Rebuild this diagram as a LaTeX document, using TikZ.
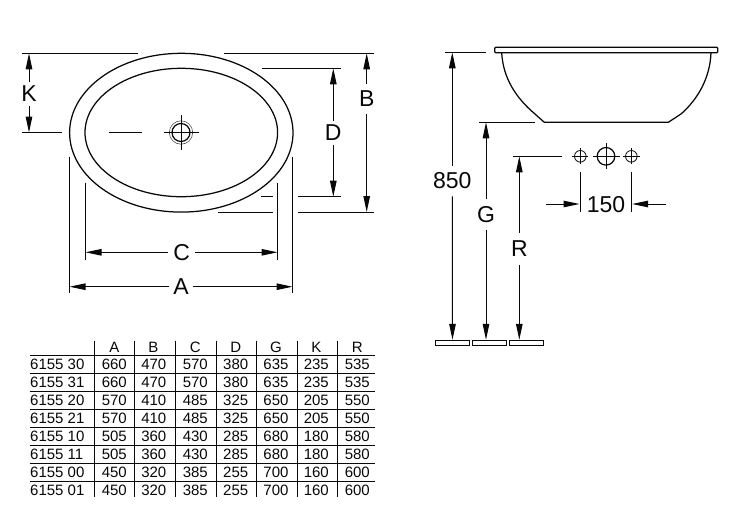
\documentclass[tikz,border=0pt]{standalone}
\usepackage{fontspec}
\setmainfont{Liberation Sans}
\usetikzlibrary{arrows.meta}
\definecolor{ink}{gray}{0.03}
\tikzset{
  thinline/.style={draw=ink,line width=1pt},
  bodyline/.style={draw=ink,line width=1.25pt},
  dimarrow/.style={draw=ink,line width=1pt,-{Triangle[length=16pt,width=6.5pt]}},
  dimlabel/.style={font=\fontsize{23}{23}\selectfont,text=ink,inner xsep=4pt,inner ysep=4pt},
  widelabel/.style={dimlabel,inner ysep=7pt},
  headcell/.style={font=\fontsize{15}{15}\selectfont,text=ink,inner sep=0pt},
  cell/.style={font=\fontsize{15}{15}\selectfont,text=ink,inner sep=0pt},
  rowcell/.style={cell,anchor=west},
  gridline/.style={draw=ink,line width=0.9pt},
  foot/.style={draw=ink,line width=1pt,fill=white}
}
\begin{document}
\begin{tikzpicture}[x=1pt,y=-1pt]
\useasboundingbox (0,0) rectangle (744,523);
\fill[white] (0,0) rectangle (744,523);

% --- plan view
\draw[bodyline] (181.3,132.7) ellipse [x radius=111.7,y radius=79.4];
\draw[bodyline] (181.3,132.5) ellipse [x radius=96.3,y radius=64.2];
\draw[draw=ink!70,line width=0.6pt] (181,132.5) circle (11.7);
\draw[bodyline] (181,132.5) circle (9);
\draw[thinline] (164,132.5) -- (199,132.5) (181,115) -- (181,150);
\draw[thinline] (109,132.5) -- (142,132.5);

% extension lines, plan
\draw[thinline] (22,53.3) -- (138,53.3) (224,53.3) -- (374,53.3);
\draw[thinline] (22,132.5) -- (62,132.5);
\draw[thinline] (262,68.3) -- (340.7,68.3);
\draw[thinline] (261,196.7) -- (273,196.7) (298,196.7) -- (341,196.7);
\draw[thinline] (218,212) -- (272.7,212) (298,212) -- (374,212);
\draw[thinline] (69.5,156.7) -- (69.5,293.3) (292.5,156.7) -- (292.5,293.3);
\draw[thinline] (85.5,183.3) -- (85.5,260) (277.5,183.3) -- (277.5,260);

% dimensions, plan
\node[dimlabel] (lK) at (29,94) {K};
\coordinate (kA) at (29,53.3); \coordinate (kB) at (29,132.5);
\draw[dimarrow] (lK) -- (kA); \draw[dimarrow] (lK) -- (kB);
\node[widelabel] (lB) at (366.7,99) {B};
\coordinate (bA) at (366.7,53.3); \coordinate (bB) at (366.7,212);
\draw[dimarrow] (lB) -- (bA); \draw[dimarrow] (lB) -- (bB);
\node[dimlabel] (lD) at (333.3,132.7) {D};
\coordinate (dA) at (333.3,68.3); \coordinate (dB) at (333.3,196.7);
\draw[dimarrow] (lD) -- (dA); \draw[dimarrow] (lD) -- (dB);
\node[dimlabel,inner xsep=5pt] (lC) at (181.7,252.8) {C};
\coordinate (cA) at (85.5,252.3); \coordinate (cB) at (277.5,252.3);
\draw[dimarrow] (lC.west |- cA) -- (cA); \draw[dimarrow] (lC.east |- cB) -- (cB);
\node[dimlabel,inner xsep=4pt] (lA) at (181,287) {A};
\coordinate (aA) at (69.5,286.7); \coordinate (aB) at (292.5,286.7);
\draw[dimarrow] (lA.west |- aA) -- (aA); \draw[dimarrow] (lA.east |- aB) -- (aB);

% --- side view
\draw[bodyline,rounded corners=1pt] (494.7,47.3) -- (717.7,47.3) -- (717.7,52.7) -- (494.7,52.7) -- cycle;
\draw[bodyline] (501.7,52.7) .. controls (503,78) and (516,98) .. (535,114) -- (544.3,122.3)
  -- (668.3,122.3) -- (681,114) .. controls (698,99) and (710,78) .. (711,52.7);

% extension lines, side
\draw[thinline] (445,52.3) -- (485.7,52.3);
\draw[thinline] (479,122.3) -- (535,122.3);
\draw[thinline] (513.3,156.3) -- (561.7,156.3);

% feet
\node[foot,minimum width=33.6pt,minimum height=5pt,inner sep=0pt] (f1) at (452.5,342.8) {};
\node[foot,minimum width=34pt,minimum height=5pt,inner sep=0pt] (f2) at (489.3,342.8) {};
\node[foot,minimum width=34pt,minimum height=5pt,inner sep=0pt] (f3) at (526.3,342.8) {};

% dimensions, side
\node[widelabel] (l850) at (452.3,181) {850};
\coordinate (hA) at (452.3,52.3);
\draw[dimarrow] (l850) -- (hA); \draw[dimarrow] (l850) -- (f1.north);
\node[widelabel] (lG) at (486,214.5) {G};
\coordinate (gA) at (486,122.3);
\draw[dimarrow] (lG) -- (gA); \draw[dimarrow] (lG) -- (lG |- f2.north);
\node[widelabel,inner ysep=8pt] (lR) at (519.3,249) {R};
\coordinate (rA) at (519.3,156.3);
\draw[dimarrow] (lR) -- (rA); \draw[dimarrow] (lR) -- (lR |- f3.north);

% tap holes
\draw[draw=ink,line width=0.8pt] (580.3,156.3) circle (5.8) (631.3,156.3) circle (5.8);
\draw[bodyline] (606,156.3) circle (8.8);
\draw[thinline] (572.3,156.3) -- (588.3,156.3) (580.3,148.3) -- (580.3,164.3);
\draw[thinline] (593.3,156.3) -- (620,156.3) (606,143.3) -- (606,169);
\draw[thinline] (623.3,156.3) -- (640,156.3) (631.3,148.3) -- (631.3,164.3);

% dimension 150
\draw[thinline] (580.3,171.7) -- (580.3,211.7) (631.3,171.7) -- (631.3,211.7);
\node[dimlabel] (l150) at (606,204.3) {150};
\coordinate (pA) at (546,204); \coordinate (pB) at (579.5,204);
\coordinate (qA) at (666,204); \coordinate (qB) at (632.1,204);
\draw[dimarrow] (pA) -- (pB); \draw[dimarrow] (qA) -- (qB);

% --- table
\foreach \y in {355,373,391,409,427,445,463,481}
  \draw[gridline] (30,\y) -- (375,\y);
\foreach \x in {94.7,134.7,175.3,216,256.7,297.3,337.7}
  \draw[gridline] (\x,340.7) -- (\x,496.7);
\foreach \t/\x in {A/114.3,B/153.3,C/195.3,D/235.7,G/276,K/316.3,R/357.3}
  \node[headcell] (h\t) at (\x,346.9) {\t};
\foreach \n/\yy/\a/\b/\c/\d/\g/\k/\r in {
  0/364.3/660/470/570/380/635/235/535,
  1/382.3/660/470/570/380/635/235/535,
  2/400.3/570/410/485/325/650/205/550,
  3/418.3/570/410/485/325/650/205/550,
  4/436.3/505/360/430/285/680/180/580,
  5/454.3/505/360/430/285/680/180/580,
  6/472.3/450/320/385/255/700/160/600,
  7/490.3/450/320/385/255/700/160/600}{
  \node[cell] (a\n) at (114.3,\yy) {\a};
  \node[cell] (b\n) at (153.8,\yy) {\b};
  \node[cell] (c\n) at (195.3,\yy) {\c};
  \node[cell] (d\n) at (235.7,\yy) {\d};
  \node[cell] (g\n) at (276,\yy) {\g};
  \node[cell] (k\n) at (316.3,\yy) {\k};
  \node[cell] (r\n) at (357.3,\yy) {\r};
}
\node[rowcell] (m0) at (30,364.3) {6155 30};
\node[rowcell] (m1) at (30,382.3) {6155 31};
\node[rowcell] (m2) at (30,400.3) {6155 20};
\node[rowcell] (m3) at (30,418.3) {6155 21};
\node[rowcell] (m4) at (30,436.3) {6155 10};
\node[rowcell] (m5) at (30,454.3) {6155 11};
\node[rowcell] (m6) at (30,472.3) {6155 00};
\node[rowcell] (m7) at (30,490.3) {6155 01};
\end{tikzpicture}
\end{document}
